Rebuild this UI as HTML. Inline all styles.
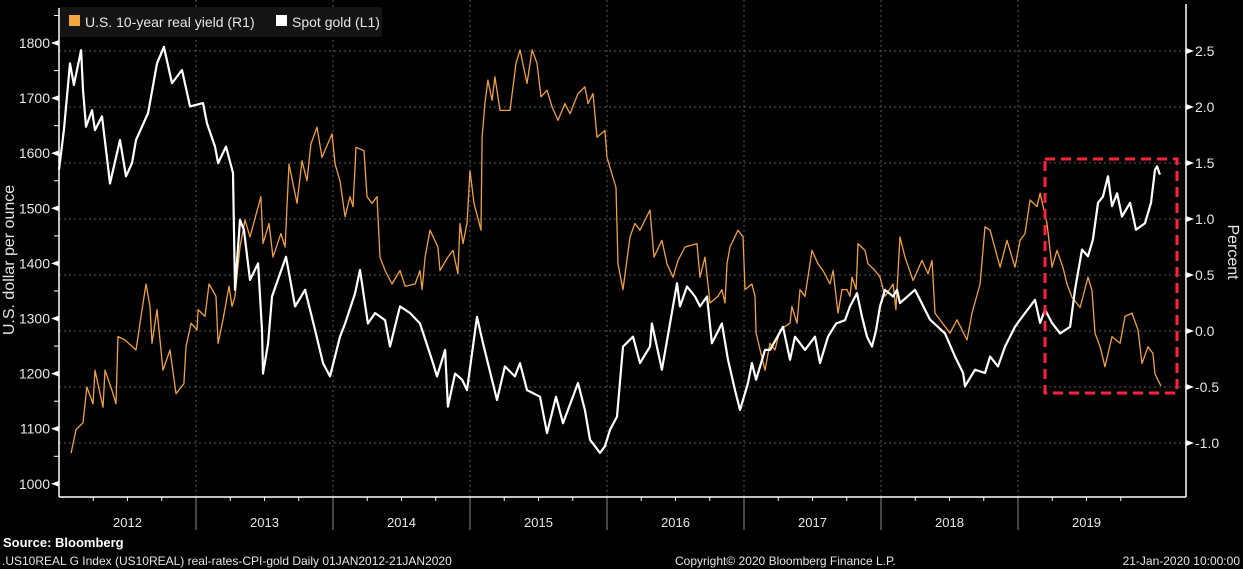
<!DOCTYPE html>
<html><head><meta charset="utf-8"><style>
html,body{margin:0;padding:0;background:#000;}
svg{display:block;font-family:"Liberation Sans",sans-serif;}
</style></head><body>
<svg id="chart" width="1243" height="569" viewBox="0 0 1243 569" xmlns="http://www.w3.org/2000/svg">
<rect width="1243" height="569" fill="#000"/>
<g id="grid"></g>
<g id="series"></g>
<g id="axes"></g>
<g>
<rect x="60" y="7" width="322" height="30" fill="#141414"/>
<rect x="69" y="15" width="11" height="11" fill="#f5a540"/>
<text x="85" y="27" fill="#e6e6e6" font-size="14">U.S. 10-year real yield (R1)</text>
<rect x="276" y="15" width="11" height="11" fill="#fff"/>
<text x="292" y="27" fill="#e6e6e6" font-size="14">Spot gold (L1)</text>
</g>
<rect x="1045" y="159" width="132" height="234" fill="none" stroke="#ff2040" stroke-width="3" stroke-dasharray="10 6"/>
<text transform="translate(14,260) rotate(-90)" text-anchor="middle" fill="#e6e6e6" font-size="16">U.S. dollar per ounce</text>
<text transform="translate(1228,252) rotate(90)" text-anchor="middle" fill="#e6e6e6" font-size="16">Percent</text>
<text x="3" y="547" fill="#fff" font-size="13" font-weight="bold">Source:  Bloomberg</text>
<text x="2" y="565" fill="#e6e6e6" font-size="12">.US10REAL G Index (US10REAL) real-rates-CPI-gold  Daily 01JAN2012-21JAN2020</text>
<text x="675" y="565" fill="#e6e6e6" font-size="12">Copyright© 2020 Bloomberg Finance L.P.</text>
<text x="1240" y="565" text-anchor="end" fill="#e6e6e6" font-size="12">21-Jan-2020 10:00:00</text>
</svg>
<script>
const goldDates=[2012.00,2012.036,2012.080,2012.109,2012.161,2012.175,2012.197,2012.241,2012.263,2012.314,2012.372,2012.445,2012.489,2012.533,2012.562,2012.650,2012.715,2012.766,2012.825,2012.898,2012.956,2013.051,2013.080,2013.139,2013.161,2013.219,2013.270,2013.285,2013.321,2013.350,2013.394,2013.453,2013.482,2013.489,2013.526,2013.555,2013.657,2013.723,2013.796,2013.869,2013.927,2013.978,2014.051,2014.088,2014.161,2014.197,2014.255,2014.307,2014.380,2014.416,2014.489,2014.562,2014.635,2014.730,2014.759,2014.818,2014.839,2014.891,2014.942,2014.978,2015.051,2015.095,2015.197,2015.255,2015.328,2015.365,2015.416,2015.511,2015.562,2015.628,2015.679,2015.788,2015.839,2015.876,2015.949,2015.985,2016.022,2016.073,2016.117,2016.190,2016.241,2016.314,2016.328,2016.401,2016.460,2016.511,2016.533,2016.584,2016.642,2016.679,2016.730,2016.766,2016.839,2016.883,2016.934,2016.971,2017.029,2017.058,2017.088,2017.153,2017.190,2017.285,2017.336,2017.372,2017.445,2017.518,2017.555,2017.613,2017.672,2017.737,2017.774,2017.825,2017.861,2017.898,2017.934,2017.964,2017.993,2018.029,2018.088,2018.117,2018.139,2018.248,2018.358,2018.467,2018.540,2018.599,2018.613,2018.686,2018.759,2018.796,2018.854,2018.905,2018.978,2019.015,2019.124,2019.161,2019.197,2019.248,2019.307,2019.380,2019.416,2019.467,2019.511,2019.547,2019.584,2019.620,2019.657,2019.686,2019.723,2019.759,2019.818,2019.861,2019.927,2019.971,2020.000,2020.015,2020.036];
const goldValues=[1570,1642,1763,1724,1787,1715,1648,1678,1642,1667,1545,1624,1558,1582,1624,1673,1763,1793,1727,1751,1685,1691,1654,1612,1582,1612,1564,1352,1479,1461,1370,1400,1279,1200,1255,1340,1412,1322,1352,1279,1219,1195,1267,1291,1346,1388,1291,1310,1297,1249,1322,1310,1291,1219,1195,1243,1140,1200,1189,1170,1303,1255,1152,1213,1195,1219,1170,1158,1092,1158,1110,1183,1134,1080,1056,1068,1098,1122,1249,1267,1219,1249,1291,1207,1291,1364,1322,1358,1340,1322,1340,1255,1291,1225,1170,1134,1183,1219,1189,1243,1243,1285,1225,1267,1243,1267,1219,1267,1291,1297,1322,1346,1303,1267,1249,1279,1322,1352,1340,1352,1328,1352,1298,1273,1231,1201,1177,1207,1201,1231,1213,1249,1285,1298,1334,1292,1316,1292,1273,1285,1352,1425,1413,1443,1510,1521,1558,1504,1527,1485,1510,1461,1473,1510,1570,1576,1561];
const yieldDates=[2012.088,2012.124,2012.175,2012.204,2012.248,2012.263,2012.321,2012.336,2012.387,2012.416,2012.431,2012.482,2012.562,2012.591,2012.635,2012.664,2012.679,2012.715,2012.759,2012.810,2012.854,2012.912,2012.927,2012.964,2013.007,2013.015,2013.066,2013.095,2013.146,2013.161,2013.197,2013.241,2013.263,2013.285,2013.321,2013.358,2013.394,2013.474,2013.489,2013.533,2013.562,2013.620,2013.650,2013.679,2013.737,2013.774,2013.810,2013.839,2013.883,2013.920,2013.993,2014.015,2014.051,2014.088,2014.124,2014.146,2014.168,2014.226,2014.248,2014.285,2014.321,2014.343,2014.380,2014.431,2014.489,2014.526,2014.599,2014.635,2014.650,2014.672,2014.708,2014.766,2014.781,2014.839,2014.876,2014.912,2014.927,2014.949,2014.978,2015.000,2015.029,2015.080,2015.088,2015.109,2015.131,2015.161,2015.182,2015.219,2015.292,2015.336,2015.365,2015.416,2015.453,2015.489,2015.518,2015.562,2015.599,2015.642,2015.693,2015.730,2015.788,2015.839,2015.861,2015.898,2015.927,2015.985,2016.000,2016.066,2016.080,2016.117,2016.168,2016.204,2016.241,2016.314,2016.343,2016.401,2016.438,2016.482,2016.518,2016.569,2016.657,2016.679,2016.715,2016.752,2016.810,2016.839,2016.861,2016.876,2016.898,2016.956,2016.993,2017.007,2017.058,2017.080,2017.088,2017.153,2017.190,2017.226,2017.263,2017.336,2017.350,2017.387,2017.409,2017.445,2017.496,2017.540,2017.577,2017.628,2017.650,2017.686,2017.715,2017.752,2017.774,2017.788,2017.818,2017.832,2017.883,2017.905,2017.956,2017.993,2018.029,2018.088,2018.109,2018.139,2018.175,2018.234,2018.299,2018.343,2018.372,2018.394,2018.504,2018.555,2018.628,2018.664,2018.723,2018.759,2018.796,2018.869,2018.920,2018.978,2019.015,2019.051,2019.088,2019.139,2019.161,2019.212,2019.248,2019.285,2019.328,2019.358,2019.394,2019.453,2019.511,2019.540,2019.562,2019.599,2019.635,2019.686,2019.745,2019.781,2019.832,2019.876,2019.905,2019.949,2019.985,2020.000,2020.022,2020.044];
const yieldValues=[-1.09,-0.88,-0.82,-0.5,-0.65,-0.35,-0.68,-0.35,-0.53,-0.65,-0.05,-0.08,-0.17,0.07,0.42,0.22,-0.11,0.19,-0.35,-0.17,-0.56,-0.47,-0.14,0.07,0.01,0.19,0.13,0.42,0.31,-0.11,0.1,0.4,0.22,0.31,0.75,0.99,0.84,1.2,0.78,0.96,0.66,0.87,0.75,1.49,1.14,1.52,1.34,1.67,1.82,1.55,1.76,1.49,1.34,1.02,1.2,1.11,1.64,1.61,1.2,1.14,1.2,0.66,0.54,0.42,0.54,0.4,0.42,0.54,0.37,0.66,0.9,0.75,0.54,0.66,0.72,0.51,0.96,0.78,0.96,1.43,1.14,0.9,1.73,2.03,2.24,2.06,2.27,1.97,1.97,2.39,2.51,2.21,2.51,2.39,2.09,2.15,2.0,1.88,2.03,1.94,2.12,2.18,2.03,2.12,1.73,1.79,1.55,1.28,0.6,0.37,0.84,0.96,0.9,1.08,0.66,0.81,0.6,0.48,0.63,0.75,0.78,0.48,0.66,0.25,0.31,0.37,0.25,0.6,0.75,0.9,0.84,0.37,0.42,0.31,-0.02,-0.35,-0.11,-0.17,0.01,0.07,0.22,0.07,0.37,0.31,0.72,0.6,0.54,0.42,0.54,0.16,0.37,0.37,0.31,0.48,0.37,0.78,0.72,0.6,0.54,0.48,0.31,0.42,0.19,0.84,0.66,0.45,0.63,0.51,0.63,0.16,-0.02,0.1,-0.08,0.16,0.42,0.93,0.9,0.57,0.81,0.57,0.81,0.87,1.17,1.11,1.23,0.96,0.57,0.72,0.57,0.42,0.3,0.21,0.48,0.36,-0.02,-0.14,-0.32,-0.05,-0.11,0.13,0.16,0.01,-0.29,-0.14,-0.2,-0.38,-0.44,-0.49];
const leftTicks=[1000,1100,1200,1300,1400,1500,1600,1700,1800];
const rightTicks=[-1.0,-0.5,0.0,0.5,1.0,1.5,2.0,2.5];
const yearLabels=["2012","2013","2014","2015","2016","2017","2018","2019"];

const NS="http://www.w3.org/2000/svg";
const X0=59,XR=1186,YB=497,PXY=137;
function xScale(t){return X0+(t-2012)*PXY;}
function yLeft(v){return 43+(1800-v)*0.551;}
function yRight(v){return 51+(2.5-v)*112;}
function mk(tag,attrs,parent){const e=document.createElementNS(NS,tag);for(const k in attrs)e.setAttribute(k,attrs[k]);parent.appendChild(e);return e;}
const grid=document.getElementById('grid'),axes=document.getElementById('axes'),series=document.getElementById('series');

rightTicks.forEach(v=>{
  const y=yRight(v);
  const g=mk('line',{x1:X0,x2:XR,y1:y,y2:y,stroke:'#5a5a5a','stroke-width':1,'stroke-dasharray':'2 3'},grid);
  
  
  const tk=mk('path',{d:`M${XR+8} ${y} l-8 -3 v6 z`,fill:'#fff'},axes);
  
  
  const lb=mk('text',{x:XR+9,y:y+5,fill:'#e6e6e6','font-size':14},axes);
  lb.textContent=(v<0?'-':'')+Math.abs(v).toFixed(1);
  
  
  const mn=mk('line',{x1:XR,x2:XR+5,y1:y-56,y2:y-56,stroke:'#fff'},axes);
  
  
});
leftTicks.forEach(v=>{
  const y=yLeft(v);
  const tk=mk('path',{d:`M${X0-8} ${y} l8 -3 v6 z`,fill:'#fff'},axes);
  
  
  const lb=mk('text',{x:X0-9,y:y+5,'text-anchor':'end',fill:'#e6e6e6','font-size':14},axes);
  lb.textContent=v;
  
  
  const mn=mk('line',{x1:X0-5,x2:X0,y1:y-27.5,y2:y-27.5,stroke:'#fff'},axes);
  
  
});
yearLabels.forEach((yr,i)=>{
  const xs=xScale(2012+i), xe=xScale(2013+i);
  if(i>0){
    const vg=mk('line',{x1:xs,x2:xs,y1:0,y2:YB,stroke:'#5a5a5a','stroke-dasharray':'2 3'},grid);
    
    
    const sep=mk('line',{x1:xs,x2:xs,y1:YB,y2:530,stroke:'#888'},axes);
    
    
  }
  for(let q=1;q<4;q++){
    const qx=xs+q*PXY/4;
    const qt=mk('line',{x1:qx,x2:qx,y1:YB,y2:YB+4,stroke:'#fff'},axes);
    
    
  }
  const lb=mk('text',{x:(xs+xe)/2,y:527,'text-anchor':'middle',fill:'#e6e6e6','font-size':13},axes);
  lb.textContent=yr;
  
  
});
const la=mk('line',{x1:X0,x2:X0,y1:8,y2:YB,stroke:'#fff','stroke-width':1.5},axes);


const ra=mk('line',{x1:XR,x2:XR,y1:4,y2:YB,stroke:'#fff','stroke-width':1.5},axes);


const ba=mk('line',{x1:X0,x2:XR,y1:YB,y2:YB,stroke:'#fff','stroke-width':1.5},axes);



const yl=mk('polyline',{points:yieldDates.map((t,i)=>xScale(t).toFixed(1)+','+yRight(yieldValues[i]).toFixed(1)).join(' '),fill:'none',stroke:'#f0a040','stroke-width':1.3,'stroke-linejoin':'round'},series);


const gl=mk('polyline',{points:goldDates.map((t,i)=>xScale(t).toFixed(1)+','+yLeft(goldValues[i]).toFixed(1)).join(' '),fill:'none',stroke:'#fff','stroke-width':2.2,'stroke-linejoin':'round'},series);


</script>
</body></html>
